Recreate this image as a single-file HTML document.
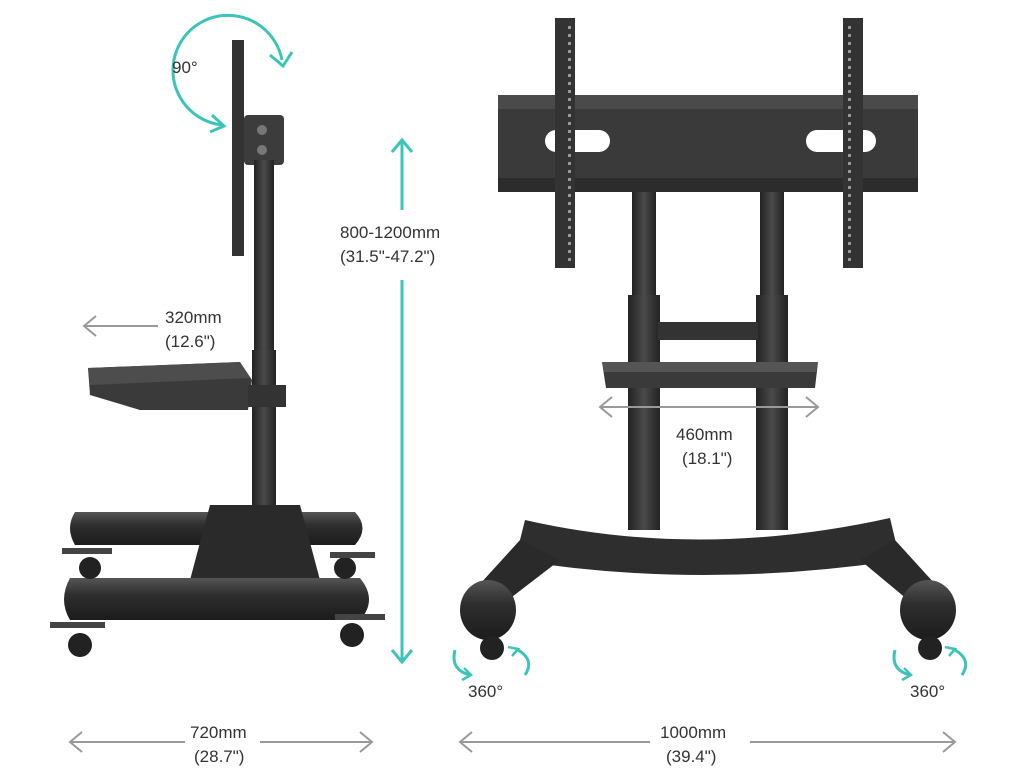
<!DOCTYPE html>
<html><head><style>
html,body{margin:0;padding:0;background:#fff}
svg{display:block}
text{font-family:"Liberation Sans",sans-serif;fill:#333;font-size:17px}
</style></head><body>
<svg width="1024" height="768" viewBox="0 0 1024 768" xmlns="http://www.w3.org/2000/svg">
<defs>
<linearGradient id="cyl" x1="0" y1="0" x2="0" y2="1"><stop offset="0" stop-color="#555"/><stop offset=".4" stop-color="#2e2e2e"/><stop offset="1" stop-color="#1c1c1c"/></linearGradient>
<linearGradient id="pole" x1="0" y1="0" x2="1" y2="0"><stop offset="0" stop-color="#222"/><stop offset=".5" stop-color="#4a4a4a"/><stop offset="1" stop-color="#222"/></linearGradient>
<pattern id="holes" width="20" height="8" patternUnits="userSpaceOnUse"><rect x="8" y="2" width="3" height="3" fill="#999"/></pattern>
</defs>
<!-- LEFT VIEW -->
<rect x="232" y="40" width="12" height="216" fill="#333"/>
<rect x="244" y="115" width="40" height="50" rx="4" fill="#3c3c3c"/>
<circle cx="262" cy="130" r="5" fill="#777"/><circle cx="262" cy="150" r="5" fill="#777"/>
<rect x="254" y="160" width="20" height="360" fill="url(#pole)"/>
<rect x="252" y="350" width="24" height="170" fill="url(#pole)"/>
<path d="M88 368 L240 362 L252 380 L248 410 L140 410 L90 395 Z" fill="#3a3a3a"/>
<path d="M88 368 L240 362 L250 378 L90 385 Z" fill="#4d4d4d"/>
<rect x="248" y="385" width="38" height="22" fill="#333"/>
<path d="M75 512 L355 512 Q370 528 355 545 L75 545 Q65 528 75 512Z" fill="url(#cyl)"/>
<path d="M210 505 L300 505 L320 580 L190 580Z" fill="#2a2a2a"/>
<path d="M70 578 L360 578 Q378 600 360 620 L70 620 Q58 600 70 578Z" fill="url(#cyl)"/>
<g fill="#222">
<circle cx="90" cy="568" r="11"/><circle cx="345" cy="568" r="11"/>
<circle cx="80" cy="645" r="12"/><circle cx="352" cy="635" r="12"/>
</g>
<rect x="62" y="548" width="50" height="6" fill="#444"/><rect x="330" y="552" width="45" height="6" fill="#444"/>
<rect x="50" y="622" width="55" height="6" fill="#444"/><rect x="335" y="614" width="50" height="6" fill="#444"/>
<!-- teal 90 -->
<path d="M222 125 A55 55 0 1 1 282 60" fill="none" stroke="#3cc4b8" stroke-width="3"/>
<path d="M270 55 L283 66 L292 52" fill="none" stroke="#3cc4b8" stroke-width="3"/>
<path d="M212 115 L224 126 L210 132" fill="none" stroke="#3cc4b8" stroke-width="3"/>
<text x="172" y="73">90°</text>
<!-- vertical teal -->
<line x1="402" y1="142" x2="402" y2="210" stroke="#3cc4b8" stroke-width="3"/>
<line x1="402" y1="280" x2="402" y2="660" stroke="#3cc4b8" stroke-width="3"/>
<path d="M392 152 L402 140 L412 152 M392 650 L402 662 L412 650" fill="none" stroke="#3cc4b8" stroke-width="3"/>
<text x="340" y="238">800-1200mm</text>
<text x="340" y="262">(31.5"-47.2")</text>
<!-- 320 -->
<line x1="84" y1="326" x2="158" y2="326" stroke="#999" stroke-width="2"/>
<path d="M96 316 L84 326 L96 336" fill="none" stroke="#999" stroke-width="2"/>
<text x="165" y="323">320mm</text><text x="165" y="347">(12.6")</text>
<!-- 720 -->
<line x1="70" y1="742" x2="185" y2="742" stroke="#999" stroke-width="2"/>
<line x1="260" y1="742" x2="372" y2="742" stroke="#999" stroke-width="2"/>
<path d="M82 732 L70 742 L82 752 M360 732 L372 742 L360 752" fill="none" stroke="#999" stroke-width="2"/>
<text x="190" y="738">720mm</text><text x="194" y="762">(28.7")</text>
<!-- RIGHT VIEW -->
<rect x="632" y="185" width="24" height="345" fill="url(#pole)"/>
<rect x="760" y="185" width="24" height="345" fill="url(#pole)"/>
<rect x="628" y="295" width="32" height="235" fill="url(#pole)"/>
<rect x="756" y="295" width="32" height="235" fill="url(#pole)"/>
<rect x="658" y="322" width="100" height="18" fill="#333"/>
<rect x="498" y="95" width="420" height="97" fill="#3a3a3a"/>
<rect x="498" y="95" width="420" height="14" fill="#4a4a4a"/>
<rect x="498" y="178" width="420" height="14" fill="#2c2c2c"/>
<rect x="545" y="130" width="65" height="22" rx="11" fill="#fff"/>
<rect x="806" y="130" width="70" height="22" rx="11" fill="#fff"/>
<rect x="555" y="18" width="20" height="250" fill="#333"/>
<rect x="843" y="18" width="20" height="250" fill="#333"/>
<rect x="555" y="22" width="20" height="240" fill="url(#holes)"/>
<rect x="843" y="22" width="20" height="240" fill="url(#holes)"/>
<path d="M602 362 L818 362 L815 388 L606 388Z" fill="#3a3a3a"/>
<path d="M602 362 L818 362 L816 372 L604 372Z" fill="#555"/>
<path d="M525 520 Q700 560 890 518 L900 560 Q700 590 515 560Z" fill="#2e2e2e"/>
<path d="M520 540 L560 560 L495 610 L470 595Z" fill="#2a2a2a"/>
<path d="M895 540 L860 560 L920 610 L945 595Z" fill="#2a2a2a"/>
<ellipse cx="488" cy="610" rx="28" ry="30" fill="url(#cyl)"/>
<ellipse cx="928" cy="610" rx="28" ry="30" fill="url(#cyl)"/>
<circle cx="492" cy="648" r="12" fill="#222"/><circle cx="930" cy="648" r="12" fill="#222"/>
<!-- 460 -->
<line x1="600" y1="407" x2="818" y2="407" stroke="#999" stroke-width="2"/>
<path d="M612 397 L600 407 L612 417 M806 397 L818 407 L806 417" fill="none" stroke="#999" stroke-width="2"/>
<text x="676" y="440">460mm</text><text x="682" y="464">(18.1")</text>
<!-- 360 -->
<path d="M455 650 Q450 670 470 675 M518 650 Q535 660 525 675" fill="none" stroke="#3cc4b8" stroke-width="3"/>
<path d="M464 668 L471 675 L462 680 M512 656 L518 649 L508 647" fill="none" stroke="#3cc4b8" stroke-width="2.5"/>
<path d="M895 650 Q890 670 910 675 M955 650 Q972 660 962 675" fill="none" stroke="#3cc4b8" stroke-width="3"/>
<path d="M904 668 L911 675 L902 680 M949 656 L955 649 L945 647" fill="none" stroke="#3cc4b8" stroke-width="2.5"/>
<text x="468" y="697">360°</text><text x="910" y="697">360°</text>
<!-- 1000 -->
<line x1="460" y1="742" x2="650" y2="742" stroke="#999" stroke-width="2"/>
<line x1="750" y1="742" x2="955" y2="742" stroke="#999" stroke-width="2"/>
<path d="M472 732 L460 742 L472 752 M943 732 L955 742 L943 752" fill="none" stroke="#999" stroke-width="2"/>
<text x="660" y="738">1000mm</text><text x="666" y="762">(39.4")</text>
</svg>
</body></html>
